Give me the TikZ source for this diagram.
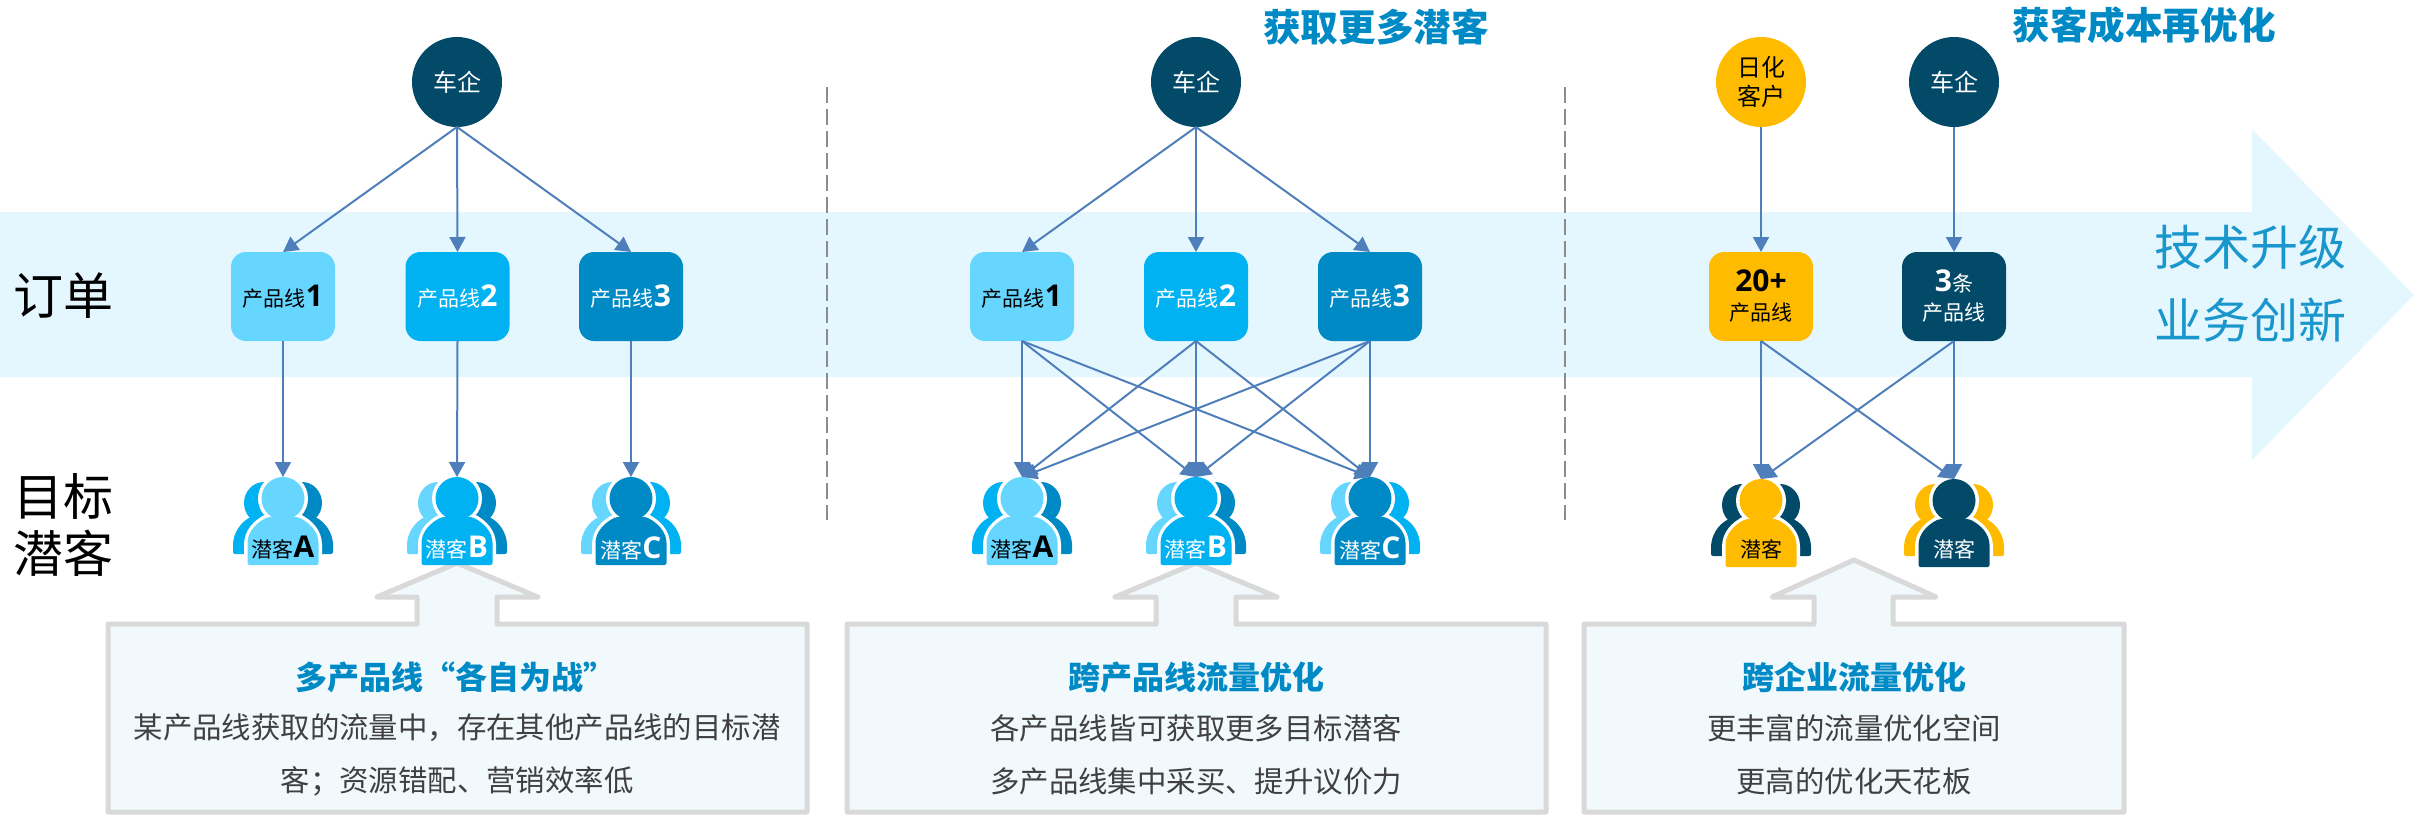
\documentclass[tikz,border=0pt]{standalone}
\usepackage{fontspec}
\setmainfont{Noto Sans CJK SC}
\newfontfamily\lat{Open Sans}
\usetikzlibrary{arrows.meta}
\definecolor{navy}{HTML}{034A69}
\definecolor{pale}{HTML}{66D6FF}
\definecolor{mid}{HTML}{00B2F2}
\definecolor{deep}{HTML}{008AC5}
\definecolor{gold}{HTML}{FFBB00}
\definecolor{bandc}{HTML}{E4F7FF}
\definecolor{linkc}{HTML}{4F7FBA}
\definecolor{calloutc}{HTML}{F1F9FD}
\definecolor{edgec}{HTML}{D9D9D9}
\definecolor{bodyc}{HTML}{404040}
\definecolor{dashc}{HTML}{8C8C8C}
\tikzset{
  link/.style={draw=linkc,line width=1pt,-{Triangle[length=7.5pt,width=8pt]}},
  round1/.style={circle,minimum size=45pt,inner sep=0pt,outer sep=0pt,align=center,font=\fontsize{12}{14.5}\selectfont},
  linebox/.style={rounded corners=7.5pt,minimum width=52pt,minimum height=44.5pt,inner sep=0pt,outer sep=0pt,align=center,font=\fontsize{10.5}{14.5}\selectfont},
  biglabel/.style={font=\fontsize{25}{28}\selectfont,inner sep=0pt,text=black},
  arrowlabel/.style={font=\fontsize{24}{28}\selectfont,inner sep=0pt,text=deep!90!white},
  toptitle/.style={font=\fontsize{18.8}{22}\bfseries\selectfont,inner sep=0pt,text=deep},
  ctitle/.style={font=\fontsize{16}{18}\bfseries\selectfont,inner sep=0pt,text=deep},
  cbody/.style={font=\fontsize{14.7}{18}\selectfont,inner sep=0pt,text=bodyc},
  callout/.style={draw=edgec,fill=calloutc,line width=2.5pt,line join=round},
  sep/.style={draw=dashc,line width=1pt,dash pattern=on 8pt off 3pt},
  plabel/.style={inner sep=0pt,font=\fontsize{10.5}{13}\selectfont}
}
\newcommand{\BN}[1]{{\lat\bfseries\fontsize{15}{15}\selectfont #1}}
% x, top y, left colour, front colour, right colour
\newcommand{\person}[5]{%
  \begin{scope}[shift={(#1,#2)}]
    \foreach \sx/\col in {-1/#3,1/#5}{
      \begin{scope}[xscale=\sx]
        \fill[\col] (19,26) ellipse [x radius=10pt,y radius=10.5pt];
        \fill[\col,rounded corners=1pt] (8,38) -- (32,40) .. controls (42,45) and (50,56) .. (50,70) -- (50,77) -- (20,77) -- cycle;
      \end{scope}
    }
    \draw[white,line width=3.5pt] (-35.5,80) -- (-35.5,68) .. controls (-35.5,55) and (-27,46) .. (-15,40) -- (15,40) .. controls (27,46) and (35.5,55) .. (35.5,68) -- (35.5,80);
    \draw[white,line width=3.5pt] (0,21.5) ellipse [x radius=10.75pt,y radius=10.75pt];
    \fill[#4,rounded corners=1pt] (-35.5,88) -- (-35.5,68) .. controls (-35.5,55) and (-27,46) .. (-15,40) -- (15,40) .. controls (27,46) and (35.5,55) .. (35.5,68) -- (35.5,88) -- cycle;
    \fill[#4] (0,21.5) ellipse [x radius=10.75pt,y radius=10.75pt];
  \end{scope}}
\begin{document}
\begin{tikzpicture}[x=0.5pt,y=-0.5pt]
\useasboundingbox (0,0) rectangle (2414,814);
% band arrow
\fill[bandc] (0,212) -- (2252,212) -- (2252,129) -- (2414,295) -- (2252,460) -- (2252,377) -- (0,377) -- cycle;
% separators
\coordinate (s1a) at (827,87); \coordinate (s1b) at (827,520);
\coordinate (s2a) at (1565,87); \coordinate (s2b) at (1565,520);
\draw[sep] (s1a) -- (s1b);
\draw[sep] (s2a) -- (s2b);
% side labels
\node[biglabel] (order) at (63,296) {订单};
\node[biglabel] (tgt1) at (63,496) {目标};
\node[biglabel] (tgt2) at (63,553) {潜客};
\node[arrowlabel] (tech) at (2250,247) {技术升级};
\node[arrowlabel] (biz) at (2250,320) {业务创新};
\node[toptitle] (t2) at (1376,27) {获取更多潜客};
\node[toptitle] (t3) at (2144,25) {获客成本再优化};
% callouts
\draw[callout] (108,624) -- (417,624) -- (417,597) -- (377,597) -- (457,563) -- (538,597) -- (497,597) -- (497,624) -- (807,624) -- (807,812) -- (108,812) -- cycle;
\draw[callout] (847,624) -- (1156,624) -- (1156,597) -- (1115,597) -- (1196,563) -- (1277,597) -- (1236,597) -- (1236,624) -- (1546,624) -- (1546,812) -- (847,812) -- cycle;
\draw[callout] (1584,624) -- (1814,624) -- (1814,597) -- (1772,597) -- (1854,560) -- (1936,597) -- (1893,597) -- (1893,624) -- (2124,624) -- (2124,812) -- (1584,812) -- cycle;
\node[ctitle] (c1t) at (455,677) {多产品线“各自为战”};
\node[cbody] (c1a) at (457,728) {某产品线获取的流量中，存在其他产品线的目标潜};
\node[cbody] (c1b) at (457,781) {客；资源错配、营销效率低};
\node[ctitle] (c2t) at (1196,677) {跨产品线流量优化};
\node[cbody] (c2a) at (1196,728) {各产品线皆可获取更多目标潜客};
\node[cbody] (c2b) at (1196,781) {多产品线集中采买、提升议价力};
\node[ctitle] (c3t) at (1854,677) {跨企业流量优化};
\node[cbody] (c3a) at (1854,728) {更丰富的流量优化空间};
\node[cbody] (c3b) at (1854,781) {更高的优化天花板};
% people
\person{283}{477}{mid}{pale}{deep}
\person{457}{477}{pale}{mid}{deep}
\person{631}{477}{pale}{deep}{mid}
\person{1022}{477}{mid}{pale}{deep}
\person{1196}{477}{pale}{mid}{deep}
\person{1370}{477}{pale}{deep}{mid}
\person{1761}{479}{navy}{gold}{navy}
\person{1954}{479}{gold}{navy}{gold}
\node[plabel,text=black] (pa1) at (283,548) {潜客\BN{A}};
\node[plabel,text=white] (pb1) at (457,548) {潜客\BN{B}};
\node[plabel,text=white] (pc1) at (631,548) {潜客\BN{C}};
\node[plabel,text=black] (pa2) at (1022,548) {潜客\BN{A}};
\node[plabel,text=white] (pb2) at (1196,548) {潜客\BN{B}};
\node[plabel,text=white] (pc2) at (1370,548) {潜客\BN{C}};
\node[plabel,text=black] (pd) at (1761,549) {潜客};
\node[plabel,text=white] (pe) at (1954,549) {潜客};
\foreach \n/\x/\y in {ta1/283/477,tb1/457/477,tc1/631/477,ta2/1022/477,tb2/1196/477,tc2/1370/477,td/1761/479,te/1954/479}
  \coordinate (\n) at (\x,\y);
% sources
\node[round1,fill=navy,text=white] (car1) at (457,82) {车企};
\node[round1,fill=navy,text=white] (car2) at (1196,82) {车企};
\node[round1,fill=gold,text=black] (daily) at (1761,82) {日化\\客户};
\node[round1,fill=navy,text=white] (car3) at (1954,82) {车企};
% product lines
\node[linebox,fill=pale,text=black] (a1) at (283,296.5) {产品线\BN{1}};
\node[linebox,fill=mid,text=white] (a2) at (457.5,296.5) {产品线\BN{2}};
\node[linebox,fill=deep,text=white] (a3) at (631,296.5) {产品线\BN{3}};
\node[linebox,fill=pale,text=black] (b1) at (1022,296.5) {产品线\BN{1}};
\node[linebox,fill=mid,text=white] (b2) at (1196,296.5) {产品线\BN{2}};
\node[linebox,fill=deep,text=white] (b3) at (1370,296.5) {产品线\BN{3}};
\node[linebox,fill=gold,text=black] (g1) at (1761,296.5) {\BN{20+}\\产品线};
\node[linebox,fill=navy,text=white] (g2) at (1954,296.5) {\BN{3}条\\产品线};
% connectors
\foreach \s/\e in {car1/a1,car1/a2,car1/a3,car2/b1,car2/b2,car2/b3,daily/g1,car3/g2}
  \draw[link] (\s.south) -- (\e.north);
\foreach \s/\e in {a1/ta1,a2/tb1,a3/tc1,b1/ta2,b1/tb2,b1/tc2,b2/ta2,b2/tb2,b2/tc2,b3/ta2,b3/tb2,b3/tc2,g1/td,g1/te,g2/td,g2/te}
  \draw[link] (\s.south) -- (\e);
\end{tikzpicture}
\end{document}
